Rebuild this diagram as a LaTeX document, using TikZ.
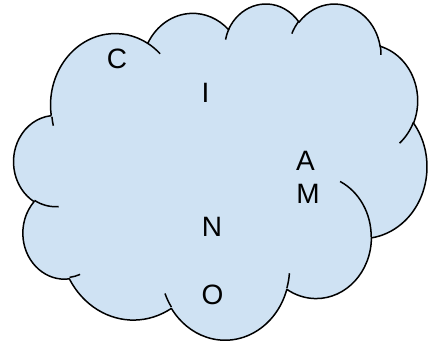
\documentclass[tikz,border=0pt]{standalone}
\usepackage{fontspec}
\setmainfont{Liberation Sans}
\definecolor{cloudblue}{RGB}{207,226,243}
% arc of the cloud outline, angles measured on the ellipse: (wR:hR:start:sweep)
\def\cloudarc(#1:#2:#3:#4){arc[x radius=#1, y radius=#2, start angle={atan2(#1*sin(#3),#2*cos(#3))}, delta angle={Mod(atan2(#1*sin(#3+#4),#2*cos(#3+#4))-atan2(#1*sin(#3),#2*cos(#3)),360)}]}

\begin{document}
\begin{tikzpicture}[x=1pt,y=1pt,
	cloudline/.style={draw=black,line width=1.5pt,line join=round},
	letter/.style={inner sep=0pt,font=\fontsize{28}{34}\selectfont}]
		%%%%% START %%%%%
		\useasboundingbox (0,0) rectangle (430,344);
		
		\begin{scope}[shift={(13.86,341.1)},xscale=0.9559,yscale=-0.778]
		\filldraw[cloudline,fill=cloudblue] (39.00,143.70)
			\cloudarc(67.53:91.90:-190.488:123.781)
			\cloudarc(53.33:72.67:-144.102:89.945)
			\cloudarc(43.65:59.45:-145.808:99.723)
			\cloudarc(48.57:65.95:-130.986:117.242)
			\cloudarc(53.33:72.73:-78.709:109.027)
			\cloudarc(67.75:92.20:-46.267:130.269)
			\cloudarc(57.85:78.67:0.625:114.033)
			\cloudarc(67.52:92.15:22.452:115.173)
			\cloudarc(77.20:105.43:66.243:75.711)
			\cloudarc(43.60:59.18:-274.942:146.736)
			\cloudarc(43.45:59.45:-246.829:152.519) -- cycle;
		
		% inner ends of the bumps
		\draw[cloudline] (46.93,261.77) \cloudarc(43.45:59.45:86.742:26.430);
		\draw[cloudline] (69.28,348.99) \cloudarc(43.60:59.18:73.610:11.447);
		\draw[cloudline] (164.78,390.90) \cloudarc(67.52:92.15:137.624:14.081);
		\draw[cloudline] (288.27,347.51) \cloudarc(67.52:92.15:6.453:15.998);
		\draw[cloudline] (341.29,229.54) \cloudarc(57.85:78.67:-70.292:70.917);
		\draw[cloudline] (417.98,153.54) \cloudarc(53.33:72.73:30.318:27.752);
		\draw[cloudline] (383.24,54.26) \cloudarc(48.57:65.95:-13.744:14.859);
		\draw[cloudline] (290.78,39.52) \cloudarc(48.57:65.95:-149.181:18.195);
		\draw[cloudline] (221.41,47.20) \cloudarc(43.65:59.45:-163.494:17.686);
		\draw[cloudline] (140.00,51.92) \cloudarc(67.53:91.90:-66.707:12.319);
		\draw[cloudline] (41.27,157.89) \cloudarc(67.53:91.90:162.048:9.739);
		\end{scope}
		
		\node[letter] (c) at (117,285) {C};
		\node[letter] (i) at (205.5,251.5) {I};
		\node[letter] (a) at (305.5,183) {A};
		\node[letter] (m) at (308,150.5) {M};
		\node[letter] (n) at (212,117) {N};
		\node[letter] (o) at (212.5,49) {O};
		
		%%%%% END %%%%%
	\end{tikzpicture}
\end{document}
